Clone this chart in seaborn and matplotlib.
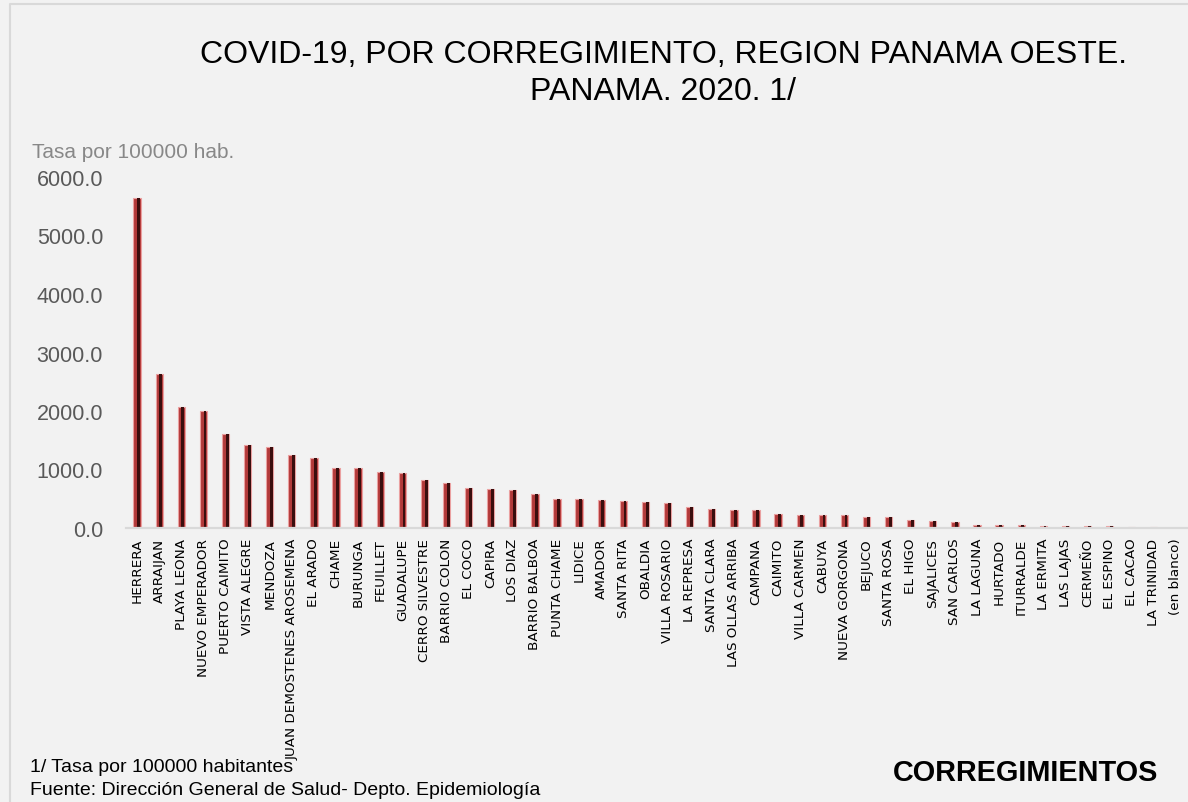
import matplotlib
matplotlib.use("Agg")
import matplotlib.pyplot as plt
from matplotlib.lines import Line2D
import seaborn as sns
import pandas as pd
import numpy as np

categories = [
    "HERRERA", "ARRAIJAN", "PLAYA LEONA", "NUEVO EMPERADOR", "PUERTO CAIMITO",
    "VISTA ALEGRE", "MENDOZA", "JUAN DEMOSTENES AROSEMENA", "EL ARADO", "CHAME",
    "BURUNGA", "FEUILLET", "GUADALUPE", "CERRO SILVESTRE", "BARRIO COLON",
    "EL COCO", "CAPIRA", "LOS DIAZ", "BARRIO BALBOA", "PUNTA CHAME",
    "LIDICE", "AMADOR", "SANTA RITA", "OBALDIA", "VILLA ROSARIO",
    "LA REPRESA", "SANTA CLARA", "LAS OLLAS ARRIBA", "CAMPANA", "CAIMITO",
    "VILLA CARMEN", "CABUYA", "NUEVA GORGONA", "BEJUCO", "SANTA ROSA",
    "EL HIGO", "SAJALICES", "SAN CARLOS", "LA LAGUNA", "HURTADO",
    "ITURRALDE", "LA ERMITA", "LAS LAJAS", "CERMEÑO", "EL ESPINO",
    "EL CACAO", "LA TRINIDAD", "(en blanco)",
]
values = [
    5640, 2632, 2068, 2000, 1607,
    1419, 1385, 1248, 1197, 1026,
    1020, 957, 945, 820, 770,
    684, 668, 650, 580, 496,
    496, 480, 460, 445, 420,
    355, 320, 315, 305, 240,
    228, 220, 215, 190, 180,
    135, 125, 95, 55, 55,
    50, 40, 35, 32, 30,
    25, 20, 0,
]
yticks = [0, 1000, 2000, 3000, 4000, 5000, 6000]

W, H = 1188, 803
BG = "#f2f2f2"

sns.set_theme(style="white")
plt.rcParams['font.family'] = ['Liberation Sans', 'DejaVu Sans']

fig = plt.figure(figsize=(W / 100, H / 100), dpi=100, facecolor=BG)
ax = fig.add_axes([126 / W, 1 - 529 / H, (1187 - 126) / W, (529 - 178) / H])
ax.set_facecolor(BG)

df = pd.DataFrame({"corregimiento": categories, "tasa": values})
sns.barplot(data=df, x="corregimiento", y="tasa", ax=ax, color="#b23a3a",
            width=0.33, edgecolor="#eaa0a0", linewidth=0.8, saturation=1)
ax.bar(np.arange(len(values)) + 0.075, values, width=0.13, color="#3a0e0e",
       linewidth=0)

ax.set_ylim(0, 6000)
ax.set_xlim(-0.5, len(categories) - 0.5)
ax.set_yticks(yticks)
ax.set_yticklabels([f"{v:.1f}" for v in yticks], color="#595959", fontsize=15.5)
ax.set_xticks(range(len(categories)))
ax.set_xticklabels(categories, rotation=90, fontsize=9.7, color="#000000",
                   family=["DejaVu Sans"])
ax.tick_params(axis="both", length=0)
ax.tick_params(axis="x", pad=7)
ax.tick_params(axis="y", pad=16.5)
ax.set_xlabel("")
ax.set_ylabel("")
for s in ["top", "right", "left"]:
    ax.spines[s].set_visible(False)
ax.spines["bottom"].set_color("#d9d9d9")
ax.spines["bottom"].set_linewidth(1.6)
ax.grid(False)

def ft(x, y, s, **kw):
    fig.text(x / W, 1 - y / H, s, **kw)

ft(663, 55, "COVID-19, POR CORREGIMIENTO, REGION PANAMA OESTE.", ha="center",
   va="center", fontsize=23, color="#000000")
ft(663, 92, "PANAMA. 2020. 1/", ha="center", va="center", fontsize=23,
   color="#000000")
ft(32, 152, "Tasa por 100000 hab.", ha="left", va="center", fontsize=15,
   color="#888888")
ft(30, 768, "1/ Tasa por 100000 habitantes", ha="left", va="center",
   fontsize=14, color="#000000")
ft(30, 791, "Fuente: Dirección General de Salud- Depto. Epidemiología",
   ha="left", va="center", fontsize=14, color="#000000")
ft(1158, 773, "CORREGIMIENTOS", ha="right", va="center", fontsize=20.8,
   fontweight="bold", color="#000000")

fig.add_artist(Line2D([10 / W, 10 / W, 1.0], [0.0, 1 - 5 / H, 1 - 5 / H],
                      transform=fig.transFigure, color="#d9d9d9", lw=1.5))

fig.savefig("out.png", dpi=100, facecolor=BG)
